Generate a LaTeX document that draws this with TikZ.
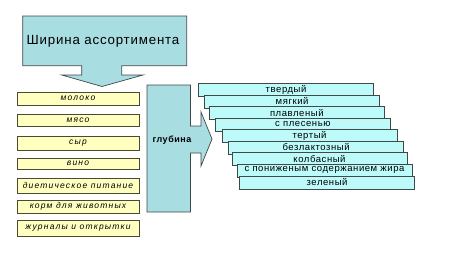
\documentclass[tikz,border=0pt]{standalone}
\usepackage{fontspec}
\setmainfont{Liberation Sans}
\newfontfamily\titlefont[LetterSpace=6]{Liberation Sans}
\newfontfamily\itemfont[LetterSpace=14]{Liberation Sans}
\newfontfamily\stairfont[LetterSpace=6]{Liberation Sans}
\definecolor{CalloutBlue}{HTML}{A8DDE2}
\definecolor{StairCyan}{HTML}{BDFBFB}
\definecolor{ItemYellow}{HTML}{FFFFC0}
\definecolor{ItemBorder}{HTML}{4A4A30}
\definecolor{EdgeGray}{HTML}{404848}
\usepackage{tikz}
\tikzset{
    % callout shapes
    callout/.style={
        draw=EdgeGray,
        fill=CalloutBlue,
        line width=0.7pt
    },
    % left column items
    item yellow/.style={
        rectangle,
        draw=ItemBorder,
        fill=ItemYellow,
        line width=0.8pt,
        minimum width=122pt,
        inner sep=0pt,
        font=\fontsize{8.5}{9}\itemfont\itshape
    },
    % stair boxes
    stair/.style={
        rectangle,
        draw=EdgeGray,
        fill=StairCyan,
        line width=0.6pt,
        minimum width=175pt,
        minimum height=13pt,
        inner sep=0pt,
        anchor=north west,
        font=\fontsize{9.5}{10}\stairfont
    }
}
\begin{document}
\begin{tikzpicture}[x=1pt, y=-1pt]
        \useasboundingbox (0,0) rectangle (450,268);

        % Width callout
        \draw[callout] (22.7,16) -- (186.7,16) -- (186.7,65.7) -- (121.7,65.7)
            -- (121.7,75) -- (143,75) -- (102,86.5) -- (61.7,75) -- (81.7,75)
            -- (81.7,65.7) -- (22.7,65.7) -- cycle;
        \node[font=\fontsize{13.3}{14}\titlefont] (width) at (103,41) {Ширина ассортимента};

        % Items
        \node[item yellow, minimum height=13pt] (milk) at (78,98.5) {молоко};
        \node[item yellow, minimum height=12pt] (meat) at (78,120) {мясо};
        \node[item yellow, minimum height=14pt] (cheese) at (78,143) {сыр};
        \node[item yellow, minimum height=11pt] (wine) at (78,163.5) {вино};
        \node[item yellow, minimum height=15pt] (diet) at (78,185.5) {диетическое питание};
        \node[item yellow, minimum height=13pt] (feed) at (78,206.5) {корм для животных};
        \node[item yellow, minimum height=16pt] (press) at (78,228) {журналы и открытки};

        % Depth callout
        \draw[callout] (147,85) -- (190.5,85) -- (190.5,126) -- (201,126)
            -- (201,112) -- (212,139) -- (201,166) -- (201,153) -- (190.5,153)
            -- (190.5,212) -- (147,212) -- cycle;
        \node[font=\fontsize{9}{10}\stairfont\bfseries] (depth) at (172,140.5) {глубина};

        % Cheese kinds
        \node[stair] (hard) at (198.3,83) {твердый};
        \node[stair] (soft) at (204.3,94.5) {мягкий};
        \node[stair] (melted) at (209,106) {плавленый};
        \node[stair] (mould) at (215,117.5) {с плесенью};
        \node[stair] (grated) at (221.7,129) {тертый};
        \node[stair] (lactose) at (228.3,140.5) {безлактозный};
        \node[stair] (sausage) at (231.7,152) {колбасный};
        \node[stair] (lowfat) at (236.7,163.5) {с пониженым содержанием жира};
        \node[stair] (green) at (239.3,175.5) {зеленый};
    \end{tikzpicture}
\end{document}
